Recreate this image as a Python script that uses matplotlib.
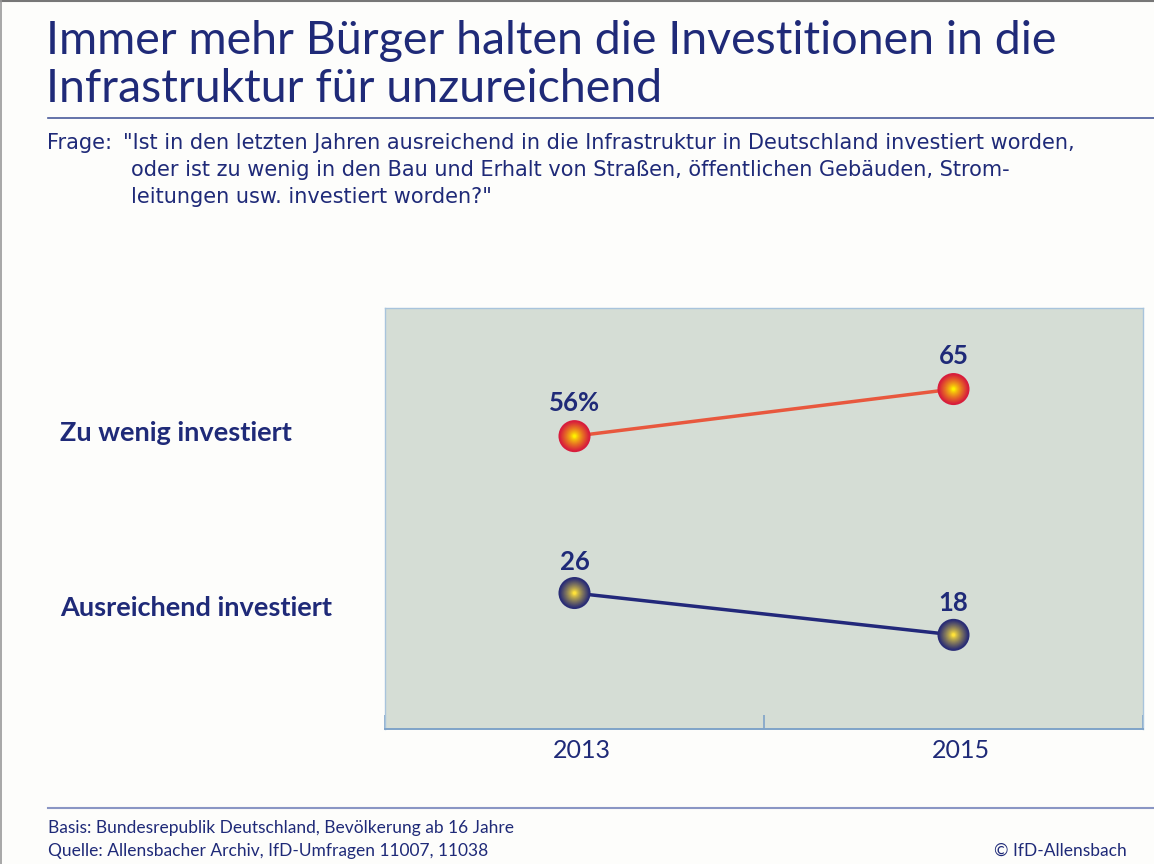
import matplotlib
matplotlib.use("Agg")
import matplotlib.pyplot as plt
from matplotlib.lines import Line2D
import numpy as np
from matplotlib.colors import to_rgb

years = ["2013", "2015"]
zu_wenig = [56, 65]
ausreichend = [26, 18]
zu_wenig_labels = ["56%", "65"]
ausreichend_labels = ["26", "18"]
series_names = ["Zu wenig investiert", "Ausreichend investiert"]

NAVY = "#1f2a78"
FONT = "Lato"
QFONT = "DejaVu Sans"

fig = plt.figure(figsize=(11.54, 8.64), dpi=100, facecolor="#fdfdfb")

# outer frame (top + left)
fig.add_artist(Line2D([0, 1], [0.999, 0.999], transform=fig.transFigure, color="#777777", lw=1.5))
fig.add_artist(Line2D([0.001, 0.001], [0, 1], transform=fig.transFigure, color="#999999", lw=1.2))

# title
fig.text(46/1154, 1-41/864, "Immer mehr Bürger halten die Investitionen in die",
         fontsize=33.5, color=NAVY, family=FONT, fontweight="normal", va="center", ha="left")
fig.text(46/1154, 1-89/864, "Infrastruktur für unzureichend",
         fontsize=33.5, color=NAVY, family=FONT, fontweight="normal", va="center", ha="left")
fig.add_artist(Line2D([48/1154, 1], [1-118/864, 1-118/864], transform=fig.transFigure, color="#4a5a9a", lw=1.2))

# question
fig.text(47/1154, 1-143/864, 'Frage:', fontsize=15, color=NAVY, family=QFONT, va="center")
q_lines = ['"Ist in den letzten Jahren ausreichend in die Infrastruktur in Deutschland investiert worden,',
           'oder ist zu wenig in den Bau und Erhalt von Straßen, öffentlichen Gebäuden, Strom-',
           'leitungen usw. investiert worden?"']
for i, (ln, x0) in enumerate(zip(q_lines, [123, 131, 131])):
    fig.text(x0/1154, 1-(143+27*i)/864, ln, fontsize=15, color=NAVY, family=QFONT, va="center")

# axes
ax = fig.add_axes([385/1154, 1-729/864, (1143-385)/1154, (729-308)/864])
ax.set_facecolor("#d5ddd5")
ax.set_xlim(0, 2)
ax.set_ylim(0, 80.5)
for s in ["top", "right", "left"]:
    ax.spines[s].set_color("#a8c4dc")
    ax.spines[s].set_linewidth(1.0)
ax.spines["bottom"].set_color("#7fa3c8")
ax.spines["bottom"].set_linewidth(1.4)
ax.set_yticks([])
ax.set_xticks([0, 1, 2])
ax.set_xticklabels([])
ax.tick_params(axis="x", direction="in", length=10, color="#7fa3c8", width=1.2)
xpos = np.arange(len(years)) + 0.5
for xp, yr in zip(xpos, years):
    ax.text(xp + 0.02, -4.2, yr, ha="center", va="center", fontsize=18, color=NAVY, family=FONT)

def sphere(x, y, outer, inner):
    o = np.array(to_rgb(outer)); c = np.array(to_rgb(inner))
    n = 30
    ax.scatter(x, y, s=32**2 * 0.52, color=outer, zorder=3, edgecolors="none")
    for k in range(n):
        t = k / (n - 1)
        size = (30 * (1 - t) + 3 * t) ** 2 * 0.52
        col = o * (1 - t) ** 0.8 + c * (1 - (1 - t) ** 0.8)
        ax.scatter(x, y, s=size, color=col, zorder=4 + k * 0.001, edgecolors="none")

ax.plot(xpos, zu_wenig, color="#e8583e", lw=2.5, zorder=2)
ax.plot(xpos, ausreichend, color="#22287a", lw=2.5, zorder=2)
for xp, v, lab in zip(xpos, zu_wenig, zu_wenig_labels):
    sphere(xp, v, "#d81d3c", "#fff000")
    ax.text(xp, v + 6.3, lab, ha="center", va="center", fontsize=18.5, fontweight="bold", color=NAVY, family=FONT)
for xp, v, lab in zip(xpos, ausreichend, ausreichend_labels):
    sphere(xp, v, "#2a2d76", "#ffe23a")
    ax.text(xp, v + 6.0, lab, ha="center", va="center", fontsize=18.5, fontweight="bold", color=NAVY, family=FONT)

# series labels
fig.text(60/1154, 1-433/864, series_names[0], fontsize=19.5, fontweight="bold", color=NAVY, family=FONT, va="center")
fig.text(60/1154, 1-608/864, series_names[1], fontsize=19.5, fontweight="bold", color=NAVY, family=FONT, va="center")

# footer
fig.add_artist(Line2D([48/1154, 1], [1-808/864, 1-808/864], transform=fig.transFigure, color="#8a96c4", lw=1.5))
fig.text(48/1154, 1-828/864, "Basis: Bundesrepublik Deutschland, Bevölkerung ab 16 Jahre",
         fontsize=12.5, color=NAVY, family=FONT, va="center")
fig.text(48/1154, 1-851/864, "Quelle: Allensbacher Archiv, IfD-Umfragen 11007, 11038",
         fontsize=12.5, color=NAVY, family=FONT, va="center")
fig.text(1127/1154, 1-851/864, "© IfD-Allensbach",
         fontsize=12.5, color=NAVY, family=FONT, va="center", ha="right")

fig.savefig("out.png", dpi=100, facecolor=fig.get_facecolor())
